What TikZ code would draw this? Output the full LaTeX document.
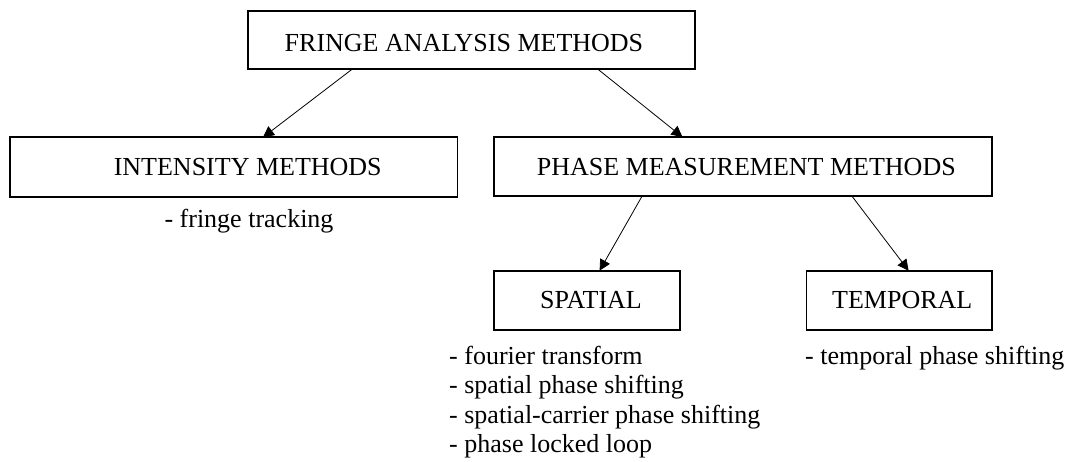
\documentclass[tikz,border=0pt]{standalone}
\usepackage{fontspec}
\setmainfont{Liberation Serif}
\usetikzlibrary{arrows.meta}
\begin{document}
\begin{tikzpicture}[x=1pt,y=-1pt,
  box/.style={draw, line width=1.9pt, inner sep=0pt, outer sep=0pt, minimum height=59pt},
  conn/.style={line width=0.8pt, -{Triangle[width=11pt,length=11pt]}},
  txt/.style={font=\fontsize{26}{29.5}\selectfont, inner sep=0pt}]
\useasboundingbox (0,0) rectangle (1071,461);
\fill[white] (0,0) rectangle (1071,461);
% boxes
\node[box, minimum width=447pt, minimum height=58.6pt, label={[txt,xshift=-7.5pt,yshift=-3pt]center:FRINGE ANALYSIS METHODS}] (top) at (471.5,40) {};
\node[box, minimum width=447.5pt, minimum height=59.4pt, label={[txt,xshift=14pt]center:INTENSITY METHODS}] (int) at (233.75,167) {};
\node[box, minimum width=498pt, minimum height=58.5pt, label={[txt,xshift=3.3pt,yshift=-1pt]center:PHASE MEASUREMENT METHODS}] (pha) at (743,166.3) {};
\node[box, minimum width=186pt, minimum height=59.3pt, label={[txt,xshift=4pt]center:SPATIAL}] (spa) at (587,300.3) {};
\node[box, minimum width=185.5pt, minimum height=59.3pt, label={[txt,xshift=3pt]center:TEMPORAL}] (tem) at (899.25,300.3) {};
% connectors
\draw[conn] ([xshift=-119.5pt]top.south) -- ([xshift=29.25pt]int.north);
\draw[conn] ([xshift=126.5pt]top.south) -- ([xshift=-60.5pt]pha.north);
\draw[conn] ([xshift=-100.6pt]pha.south) -- ([xshift=12.6pt]spa.north);
\draw[conn] ([xshift=108.5pt]pha.south) -- ([xshift=9.35pt]tem.north);
% lists
\node[txt, anchor=base] (ft) at (249,227) {- fringe tracking};
\node[txt, anchor=base west] (s1) at (449,364) {- fourier transform};
\node[txt, anchor=base west] (s2) at (449,393.5) {- spatial phase shifting};
\node[txt, anchor=base west] (s3) at (449,423) {- spatial-carrier phase shifting};
\node[txt, anchor=base west] (s4) at (449,452.5) {- phase locked loop};
\node[txt, anchor=base west] (t1) at (805,364) {- temporal phase shifting};
\end{tikzpicture}
\end{document}
